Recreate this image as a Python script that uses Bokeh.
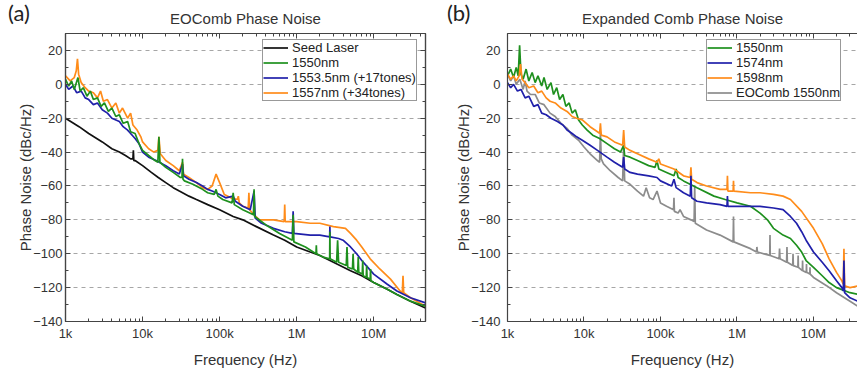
from bokeh.plotting import figure
from bokeh.models import (LogAxis, LinearAxis, FixedTicker, CustomJSTickFormatter,
                          Legend, LegendItem, Div, Range1d)
from bokeh.layouts import row
from bokeh.embed import file_html
from bokeh.resources import INLINE

# ---------------- data: panel (a) EOComb Phase Noise ----------------
SEED_F = [1e3, 1.5e3, 2e3, 3e3, 4e3, 5e3, 6e3, 7e3, 7.5e3, 7.6e3, 7.7e3, 8e3, 1e4, 1.3e4, 1.6e4, 2e4,
          2.5e4, 3e4, 4e4, 5e4, 7e4, 1e5, 1.5e5, 2e5, 3e5, 5e5, 7e5, 1e6, 1.5e6, 2e6, 3e6, 5e6,
          7e6, 1e7, 1.5e7, 2e7, 3e7, 4.7e7]
SEED_V = [-20, -25, -29, -34, -38, -40, -42, -44, -44, -39, -45, -45, -48, -52, -55, -58,
          -61, -63, -66, -68, -71, -74, -78, -80, -84, -89, -92, -96, -99, -101, -105, -110,
          -113, -117, -121, -124, -128, -132]

A1550_F = [1e3, 1.1e3, 1.2e3, 1.3e3, 1.45e3, 1.55e3, 1.7e3, 1.9e3, 2.1e3, 2.3e3, 2.6e3, 2.9e3,
           3.2e3, 3.6e3, 4e3, 4.5e3, 5e3, 5.6e3, 6.4e3, 7e3, 8e3, 9e3, 1e4, 1.2e4, 1.45e4,
           1.58e4, 1.63e4, 1.68e4, 2e4, 2.5e4, 3.1e4, 3.25e4, 3.3e4, 3.35e4, 3.5e4, 4.5e4,
           6e4, 7e4, 8.5e4, 9e4, 9.5e4, 1.1e5, 1.45e5, 1.5e5, 1.55e5, 2e5, 2.75e5, 2.8e5,
           2.85e5, 4e5, 6e5, 8.8e5, 9e5, 9.2e5, 1.3e6, 1.78e6, 1.8e6, 1.82e6, 2.2e6, 2.68e6,
           2.7e6, 2.72e6, 3.3e6, 3.4e6, 3.5e6, 4.4e6, 4.5e6, 4.6e6, 5.3e6, 5.4e6, 5.5e6,
           6.2e6, 6.3e6, 6.4e6, 7.1e6, 7.2e6, 7.3e6, 8e6, 8.1e6, 8.2e6, 9e6, 9.1e6, 9.2e6,
           1e7, 1.5e7, 2e7, 3e7, 4.7e7]
A1550_V = [3, -1, 2, -3, 4, -4, -2, -7, -4, -9, -8, -13,
           -11, -16, -14, -19, -18, -23, -22, -28, -29, -35, -39, -42, -45,
           -46, -31, -46, -49, -52, -55, -55, -44, -56, -57, -59,
           -62, -64, -65, -62, -66, -68, -70, -64, -71, -74, -77, -62,
           -78, -83, -88, -92, -77, -93, -96, -100, -95, -100, -102, -103,
           -87, -103, -105, -92, -105, -107, -96, -108, -109, -100, -109,
           -111, -102, -111, -112, -104, -113, -114, -107, -114, -115, -109, -116,
           -117, -121, -124, -128, -131]

A1553_F = [1e3, 1.1e3, 1.25e3, 1.4e3, 1.6e3, 1.8e3, 2e3, 2.3e3, 2.6e3, 3e3, 3.5e3, 4e3, 5e3,
           5.6e3, 6.4e3, 7e3, 8e3, 9e3, 1e4, 1.2e4, 1.5e4, 2e4, 2.5e4, 3e4, 3.3e4, 3.4e4,
           4e4, 5e4, 6e4, 7e4, 8e4, 1e5, 1.2e5, 1.5e5, 1.6e5, 2e5, 2.5e5, 2.8e5, 2.9e5,
           3.5e5, 5e5, 7e5, 8.8e5, 9e5, 9.2e5, 1.5e6, 2e6, 2.68e6, 2.7e6, 2.72e6, 3.5e6,
           4e6, 5e6, 6e6, 7e6, 8e6, 1e7, 1.5e7, 2e7, 3e7, 4.7e7]
A1553_V = [0, -3, -1, -5, -4, -8, -9, -12, -11, -15, -17, -20, -22,
           -25, -27, -29, -32, -35, -40, -43, -45, -48, -51, -53, -47, -54,
           -56, -58, -60, -62, -63, -65, -67, -66, -69, -72, -74, -63, -79,
           -82, -85, -87, -88, -75, -88, -89, -89, -90, -84, -90, -91,
           -92, -96, -100, -104, -107, -112, -118, -122, -126, -129]

A1557_F = [1e3, 1.15e3, 1.3e3, 1.38e3, 1.43e3, 1.48e3, 1.6e3, 1.8e3, 2e3, 2.3e3, 2.6e3, 2.85e3,
           3.1e3, 3.5e3, 4e3, 4.5e3, 5e3, 5.5e3, 6.4e3, 7e3, 7.5e3, 8.5e3, 9.5e3, 1e4, 1.2e4,
           1.4e4, 1.58e4, 1.63e4, 1.7e4, 2e4, 2.5e4, 3e4, 3.3e4, 3.4e4, 4e4, 5e4, 6e4, 7e4,
           8e4, 9e4, 1e5, 1.15e5, 1.4e5, 1.7e5, 1.75e5, 1.8e5, 2e5, 2.35e5, 2.4e5, 2.45e5,
           2.8e5, 3.3e5, 5e5, 6.9e5, 7e5, 7.1e5, 1e6, 1.5e6, 2e6, 3e6, 4.3e6, 5e6, 6e6, 7e6,
           9e6, 1.2e7, 1.65e7, 2.2e7, 2.35e7, 2.4e7, 2.45e7, 3e7, 4.7e7]
A1557_V = [5, 2, 4, 8, 15, 6, 1, -2, -4, -5, -8, -4,
           -10, -9, -14, -11, -17, -14, -20, -17, -24, -27, -31, -34, -38,
           -40, -39, -31, -41, -45, -48, -51, -46, -53, -55, -58, -61, -62,
           -60, -53, -58, -65, -67, -68, -66, -70, -72, -73, -64, -74,
           -77, -80, -80, -81, -71, -81, -81, -82, -82, -84, -85, -88, -92, -96,
           -103, -109, -115, -122, -123, -113, -123, -126, -131]

# ---------------- data: panel (b) Expanded Comb Phase Noise ----------------
B1550_F = [1e3, 1.1e3, 1.2e3, 1.3e3, 1.38e3, 1.44e3, 1.5e3, 1.6e3, 1.75e3, 1.9e3, 2.1e3, 2.3e3,
           2.5e3, 2.8e3, 3e3, 3.3e3, 3.7e3, 4e3, 4.4e3, 4.8e3, 5.3e3, 5.8e3, 6.4e3, 7e3, 7.7e3,
           8.5e3, 9.5e3, 1.1e4, 1.3e4, 1.6e4, 2e4, 2.5e4, 3e4, 3.3e4, 3.4e4, 4e4, 5e4, 7e4,
           8.5e4, 9e4, 9.5e4, 1.2e5, 1.5e5, 1.6e5, 1.7e5, 2e5, 3e5, 5e5, 7e5, 1e6, 1.5e6, 2e6,
           2.5e6, 3e6, 4e6, 5e6, 6e6, 7e6, 8e6, 1e7, 1.3e7, 1.6e7, 2e7, 3e7, 3.8e7]
B1550_V = [5, 9, 4, 10, 5, 23, 6, 3, 9, 2, 7, 1,
           5, -1, 4, -3, 1, -6, -2, -9, -6, -13, -11, -17, -15,
           -21, -24, -27, -30, -32, -35, -38, -40, -36, -42, -43, -45, -48,
           -49, -45, -50, -52, -54, -50, -55, -57, -61, -66, -68, -70, -72, -76,
           -80, -85, -89, -91, -95, -99, -104, -108, -113, -117, -120, -123, -124]

B1574_F = [1e3, 1.1e3, 1.2e3, 1.35e3, 1.5e3, 1.7e3, 1.9e3, 2.2e3, 2.5e3, 2.8e3, 3.2e3, 3.7e3,
           4.5e3, 5.3e3, 6e3, 7e3, 8e3, 9.5e3, 1.2e4, 1.5e4, 2e4, 2.5e4, 3.2e4, 3.3e4, 3.4e4,
           4e4, 5e4, 7e4, 9e4, 1e5, 1.4e5, 1.5e5, 1.6e5, 2e5, 2.45e5, 2.5e5, 2.55e5, 3e5, 4e5,
           6e5, 7.4e5, 7.5e5, 7.6e5, 1e6, 1.5e6, 2e6, 3e6, 4e6, 5e6, 6e6, 7e6, 8e6, 1e7,
           1.3e7, 1.6e7, 2e7, 2.35e7, 2.45e7, 2.5e7, 2.55e7, 3e7, 3.8e7]
B1574_V = [1, -2, 0, -4, -3, -8, -7, -13, -12, -17, -18, -20,
           -22, -24, -27, -29, -31, -33, -36, -39, -43, -46, -49, -43, -50,
           -52, -53, -54, -55, -57, -60, -56, -61, -64, -66, -54, -67, -69, -70,
           -71, -72, -66, -72, -72, -72, -72, -73, -74, -78, -82, -87, -92, -99,
           -105, -110, -116, -120, -122, -104, -123, -126, -128]

B1598_F = [1e3, 1.1e3, 1.2e3, 1.3e3, 1.42e3, 1.48e3, 1.55e3, 1.7e3, 1.9e3, 2.2e3, 2.5e3, 2.8e3,
           3.2e3, 3.6e3, 4.2e3, 5e3, 6e3, 7e3, 8e3, 9.5e3, 1.2e4, 1.5e4, 1.6e4, 1.64e4, 1.68e4,
           2e4, 2.5e4, 3.2e4, 3.3e4, 3.4e4, 4e4, 5e4, 7e4, 9e4, 9.5e4, 1e5, 1.5e5, 2e5, 2.45e5,
           2.5e5, 2.55e5, 3e5, 4e5, 6e5, 7.4e5, 7.5e5, 7.6e5, 8.9e5, 9e5, 9.1e5, 1.5e6, 2e6,
           3e6, 4e6, 5e6, 7e6, 1e7, 1.3e7, 1.6e7, 2e7, 2.35e7, 2.45e7, 2.5e7, 2.55e7, 3e7, 3.8e7]
B1598_V = [6, 3, 5, 2, 5, 12, 3, 1, -2, -1, -5, -4,
           -8, -10, -11, -14, -16, -19, -20, -21, -25, -28, -29, -23, -30,
           -31, -34, -36, -27, -37, -39, -41, -44, -46, -44, -47, -50, -54, -55,
           -49, -56, -58, -60, -62, -62, -54, -63, -63, -57, -63, -64, -64,
           -65, -66, -68, -75, -85, -94, -103, -111, -116, -118, -97, -119, -120, -119]

BEO_F = [1e3, 1.1e3, 1.2e3, 1.3e3, 1.45e3, 1.6e3, 1.7e3, 1.8e3, 2e3, 2.3e3, 2.6e3, 3e3, 3.6e3,
         4.2e3, 5e3, 6e3, 7e3, 8.5e3, 1e4, 1.2e4, 1.5e4, 1.6e4, 1.64e4, 1.68e4, 1.8e4, 2.2e4,
         2.8e4, 3.2e4, 3.3e4, 3.4e4, 4e4, 5e4, 6e4, 6.5e4, 7.2e4, 8e4, 9e4, 1e5, 1.2e5, 1.48e5,
         1.5e5, 1.52e5, 1.7e5, 1.8e5, 2e5, 2.5e5, 2.75e5, 2.8e5, 2.85e5, 4e5, 6e5, 8.9e5, 9e5,
         9.1e5, 1.5e6, 1.8e6, 1.82e6, 1.85e6, 2.68e6, 2.7e6, 2.72e6, 3.55e6, 3.6e6, 3.65e6,
         4.45e6, 4.5e6, 4.55e6, 5.35e6, 5.4e6, 5.45e6, 6.25e6, 6.3e6, 6.35e6, 7.15e6, 7.2e6,
         7.25e6, 8.05e6, 8.1e6, 8.15e6, 8.95e6, 9e6, 9.05e6, 1e7, 1.5e7, 2e7, 3e7, 3.8e7]
BEO_V = [6, 2, 5, 0, 3, -3, 2, -4, -6, -6, -11, -12, -17,
         -19, -23, -26, -30, -33, -37, -41, -45, -46, -28, -44, -47, -51,
         -55, -57, -36, -57, -59, -63, -66, -61, -67, -68, -63, -70, -72, -74,
         -67, -75, -76, -74, -78, -80, -81, -60, -82, -86, -89, -93, -78,
         -93, -97, -99, -96, -99, -101, -89, -101, -103, -97, -103,
         -105, -96, -105, -107, -100, -107, -108, -101, -108, -110, -104,
         -110, -111, -106, -111, -112, -108, -112, -114, -119, -123, -128, -131]

X_TICKS = [1e3, 1e4, 1e5, 1e6, 1e7]
X_TICK_LABELS = ["1k", "10k", "100k", "1M", "10M"]
X_MINOR = [k * 10 ** d for d in range(3, 8) for k in range(2, 10)]
Y_TICKS = [-140, -120, -100, -80, -60, -40, -20, 0, 20]
Y_MINOR = [-130, -110, -90, -70, -50, -30, -10, 10, 30]
PANEL_TAGS = ["(a)", "(b)"]

FONT = "Liberation Sans"
TXT = "#333333"
AX = "#444444"
GREEN = "#1e901e"
BLUE = "#2020aa"
ORANGE = "#ff8c1a"
BLACK = "#111111"
GREY = "#8c8c8c"
LW = 1.7


def fmt():
    return CustomJSTickFormatter(args=dict(vals=X_TICKS, labs=X_TICK_LABELS), code="""
        for (let i = 0; i < vals.length; i++) {
            if (Math.abs(tick - vals[i]) <= 1e-6 * vals[i]) return labs[i];
        }
        return "";
    """)


def blank_fmt():
    return CustomJSTickFormatter(code="return '';")


def style_axis(ax, labels=True):
    ax.axis_line_color = AX
    ax.axis_line_width = 1.2
    ax.major_tick_line_color = AX
    ax.minor_tick_line_color = AX
    ax.major_tick_in = 5
    ax.major_tick_out = 0
    ax.minor_tick_in = 3
    ax.minor_tick_out = 0
    ax.major_label_text_font = FONT
    ax.major_label_text_font_size = "13px"
    ax.major_label_text_color = TXT
    ax.axis_label_text_font = FONT
    ax.axis_label_text_font_size = "15px"
    ax.axis_label_text_font_style = "normal"
    ax.axis_label_text_color = TXT
    if not labels:
        ax.formatter = blank_fmt()
        ax.major_label_standoff = 0


def make_fig(title, width, min_left, min_right, x_end, right_axis, ylab_standoff):
    p = figure(width=width, height=370, x_axis_type="log",
               x_range=Range1d(1e3, x_end), y_range=Range1d(-140, 30),
               output_backend="svg", toolbar_location=None,
               min_border_left=min_left, min_border_right=min_right,
               min_border_top=33, min_border_bottom=46, title=title)
    p.title.align = "center"
    p.title.text_font = FONT
    p.title.text_font_size = "15px"
    p.title.text_font_style = "normal"
    p.title.text_color = TXT
    p.title.standoff = 14
    p.xaxis[0].ticker = FixedTicker(ticks=X_TICKS, minor_ticks=X_MINOR)
    p.xaxis[0].formatter = fmt()
    p.xaxis[0].axis_label = "Frequency (Hz)"
    p.yaxis[0].ticker = FixedTicker(ticks=Y_TICKS, minor_ticks=Y_MINOR)
    p.yaxis[0].axis_label = "Phase Noise (dBc/Hz)"
    style_axis(p.xaxis[0])
    style_axis(p.yaxis[0])
    p.xaxis[0].major_label_standoff = 4
    p.xaxis[0].axis_label_standoff = 7
    p.yaxis[0].major_label_standoff = ylab_standoff
    p.yaxis[0].axis_label_standoff = -4
    top = LogAxis(ticker=FixedTicker(ticks=X_TICKS, minor_ticks=X_MINOR))
    style_axis(top, labels=False)
    p.add_layout(top, "above")
    if right_axis:
        r = LinearAxis(ticker=FixedTicker(ticks=Y_TICKS, minor_ticks=Y_MINOR))
        style_axis(r, labels=False)
        p.add_layout(r, "right")
        p.outline_line_color = AX
        p.outline_line_width = 1.2
    else:
        p.outline_line_color = None
    p.xgrid.visible = False
    p.ygrid[0].ticker = FixedTicker(ticks=Y_TICKS)
    p.ygrid.grid_line_color = "#a6a6a6"
    p.ygrid.grid_line_dash = "4 4"
    p.ygrid.grid_line_width = 1
    return p


def style_legend(lg):
    lg.label_text_font = FONT
    lg.label_text_font_size = "13px"
    lg.label_text_color = "#222222"
    lg.label_height = 15
    lg.glyph_height = 15
    lg.glyph_width = 25
    lg.spacing = 0
    lg.padding = 0
    lg.margin = 0
    lg.label_standoff = 4
    lg.border_line_color = "#333333"
    lg.border_line_width = 1
    lg.background_fill_alpha = 1


def tag(text, left):
    return Div(text=text, styles={"position": "absolute", "left": f"{left}px", "top": "-1px",
                                  "font-family": "Lato", "font-size": "22px",
                                  "line-height": "28px", "color": "#222222",
                                  "z-index": "10", "margin": "0", "padding": "0"})


# ---------------- panel (a) ----------------
p1 = make_fig("EOComb Phase Noise", 438, 65, 13, 4.7e7, True, 3)
r_seed = p1.line(SEED_F, SEED_V, color=BLACK, line_width=LW)
r_1557 = p1.line(A1557_F, A1557_V, color=ORANGE, line_width=LW)
r_1553 = p1.line(A1553_F, A1553_V, color=BLUE, line_width=LW)
r_1550 = p1.line(A1550_F, A1550_V, color=GREEN, line_width=LW)
lg1 = Legend(items=[LegendItem(label="Seed Laser", renderers=[r_seed]),
                    LegendItem(label="1550nm", renderers=[r_1550]),
                    LegendItem(label="1553.5nm (+17tones)", renderers=[r_1553]),
                    LegendItem(label="1557nm (+34tones)", renderers=[r_1557])],
             location=(197, 220))
style_legend(lg1)
p1.add_layout(lg1)

# ---------------- panel (b) ----------------
p2 = make_fig("Expanded Comb Phase Noise", 419, 69, 0, 3.76e7, False, 7)
r_eo = p2.line(BEO_F, BEO_V, color=GREY, line_width=LW)
r_g = p2.line(B1550_F, B1550_V, color=GREEN, line_width=LW)
r_o = p2.line(B1598_F, B1598_V, color=ORANGE, line_width=LW)
r_b = p2.line(B1574_F, B1574_V, color=BLUE, line_width=LW)
lg2 = Legend(items=[LegendItem(label="1550nm", renderers=[r_g]),
                    LegendItem(label="1574nm", renderers=[r_b]),
                    LegendItem(label="1598nm", renderers=[r_o]),
                    LegendItem(label="EOComb 1550nm", renderers=[r_eo])],
             location=(199, 220))
style_legend(lg2)
p2.add_layout(lg2)

layout = row(p1, p2, tag(PANEL_TAGS[0], 8), tag(PANEL_TAGS[1], 447))
open("out.html", "w").write(file_html(layout, INLINE))
